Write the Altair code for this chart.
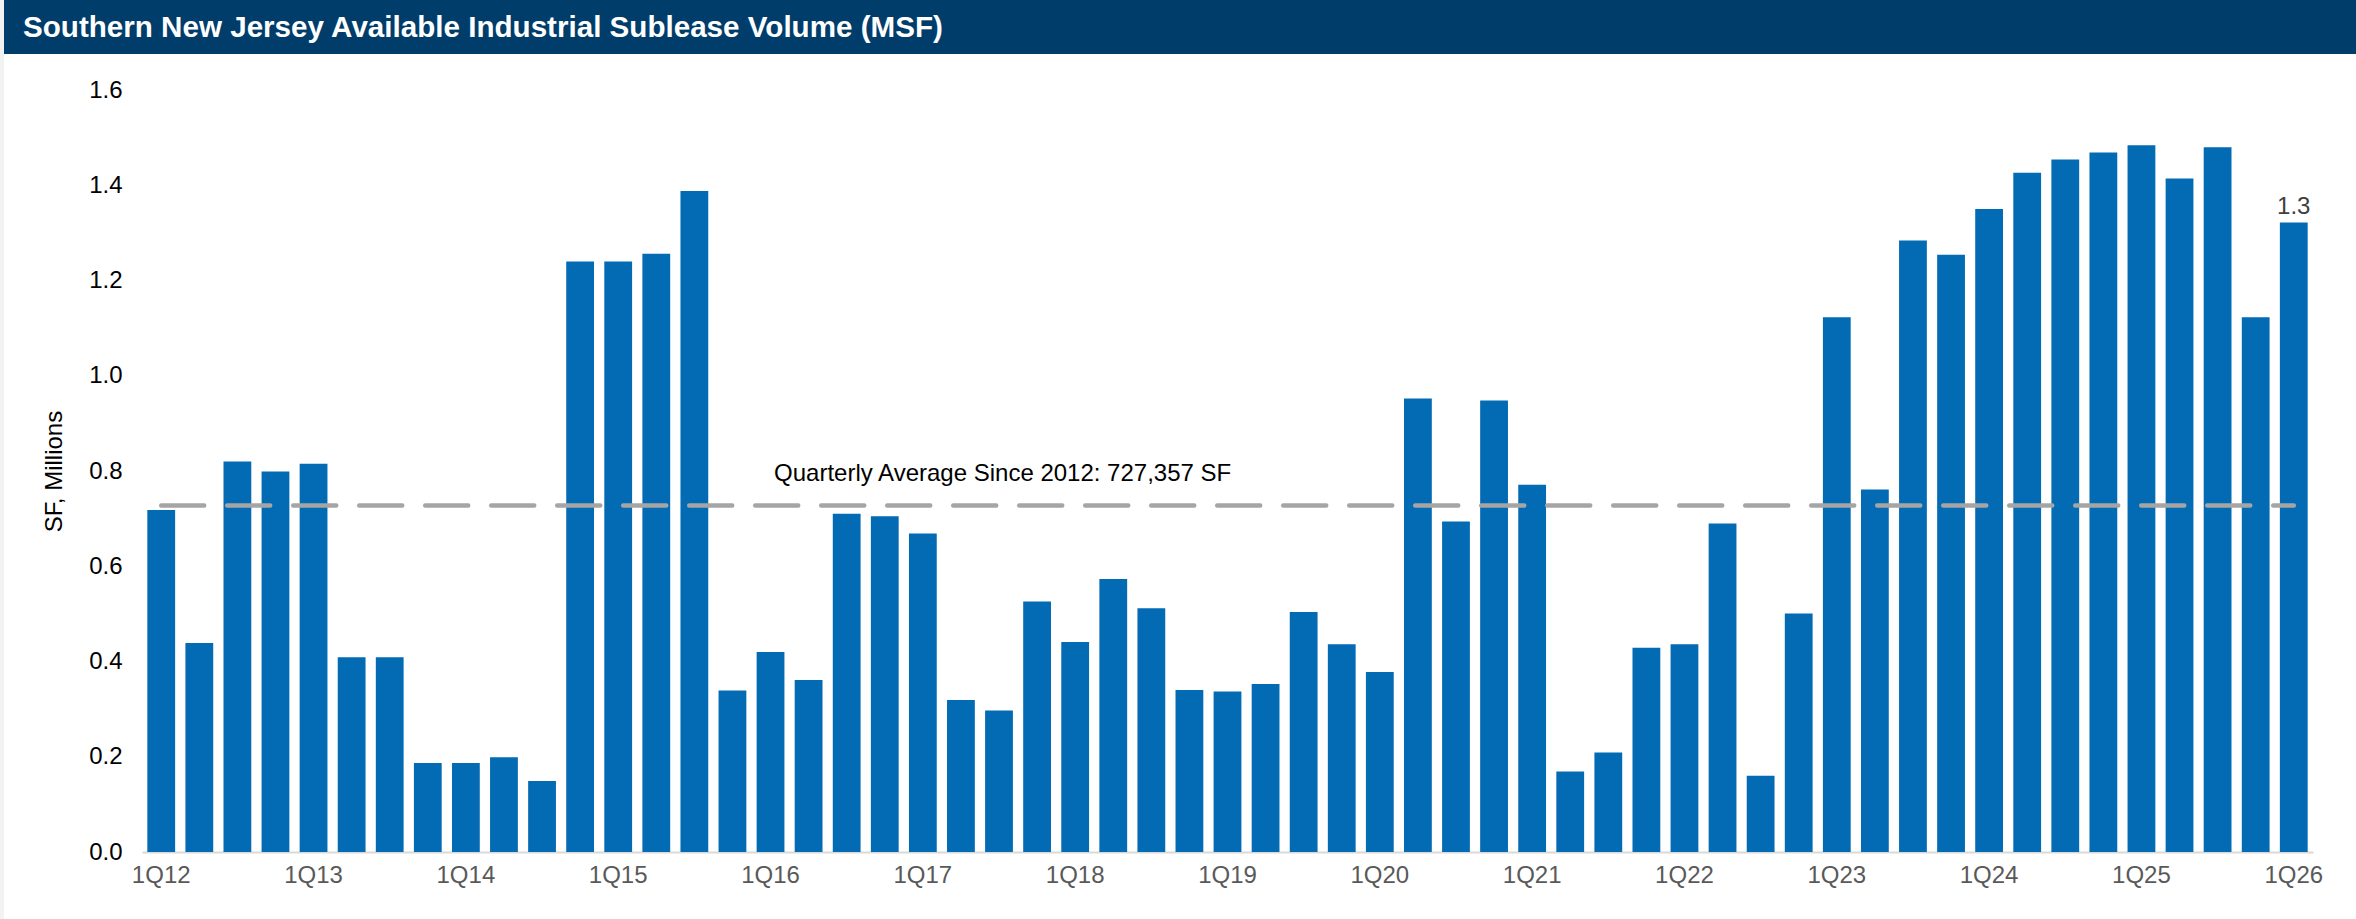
import altair as alt
import pandas as pd

TITLE = "Southern New Jersey Available Industrial Sublease Volume (MSF)"

quarters = [
    "1Q12", "2Q12", "3Q12", "4Q12",
    "1Q13", "2Q13", "3Q13", "4Q13",
    "1Q14", "2Q14", "3Q14", "4Q14",
    "1Q15", "2Q15", "3Q15", "4Q15",
    "1Q16", "2Q16", "3Q16", "4Q16",
    "1Q17", "2Q17", "3Q17", "4Q17",
    "1Q18", "2Q18", "3Q18", "4Q18",
    "1Q19", "2Q19", "3Q19", "4Q19",
    "1Q20", "2Q20", "3Q20", "4Q20",
    "1Q21", "2Q21", "3Q21", "4Q21",
    "1Q22", "2Q22", "3Q22", "4Q22",
    "1Q23", "2Q23", "3Q23", "4Q23",
    "1Q24", "2Q24", "3Q24", "4Q24",
    "1Q25", "2Q25", "3Q25", "4Q25",
    "1Q26",
]

volume_msf = [
    0.718, 0.439, 0.820, 0.799,
    0.815, 0.409, 0.409, 0.187,
    0.187, 0.199, 0.149, 1.240,
    1.240, 1.256, 1.388, 0.339,
    0.420, 0.361, 0.710, 0.705,
    0.669, 0.319, 0.297, 0.526,
    0.441, 0.573, 0.512, 0.340,
    0.337, 0.353, 0.504, 0.436,
    0.378, 0.952, 0.694, 0.948,
    0.771, 0.169, 0.209, 0.429,
    0.436, 0.690, 0.160, 0.501,
    1.123, 0.761, 1.284, 1.254,
    1.350, 1.426, 1.454, 1.469,
    1.484, 1.414, 1.480, 1.123,
    1.322,
]

axis_labels = ["1Q12", "1Q13", "1Q14", "1Q15", "1Q16", "1Q17", "1Q18",
               "1Q19", "1Q20", "1Q21", "1Q22", "1Q23", "1Q24", "1Q25", "1Q26"]
y_ticks = [0.0, 0.2, 0.4, 0.6, 0.8, 1.0, 1.2, 1.4, 1.6]

avg_value = 0.727357
avg_label = "Quarterly Average Since 2012: 727,357 SF"
avg_label_anchor = "1Q16"

FONT = "Liberation Sans"
BAR = "#036AB4"
NAVY = "#003D6B"
FS = 24

W, H = 2171, 762
PAD_L, PAD_T, PAD_R, PAD_B = 142, 90, 43, 67
TOTAL_W = PAD_L + W + PAD_R

df = pd.DataFrame({"q": quarters, "v": volume_msf})
df["lab"] = [f"{v:.1f}" for v in volume_msf]

x_enc = alt.X(
    "q:N",
    sort=quarters,
    scale=alt.Scale(domain=quarters, paddingInner=0.27, paddingOuter=0.14),
    axis=alt.Axis(
        values=axis_labels, labelAngle=0, title=None, ticks=False,
        labelFontSize=FS, labelColor="#595959", labelFont=FONT, labelPadding=11,
        domainColor="#D9D9D9", domainWidth=2,
    ),
)
y_enc = alt.Y(
    "v:Q",
    scale=alt.Scale(domain=[0, 1.6], nice=False, zero=True),
    axis=alt.Axis(
        values=y_ticks, format=".1f", grid=False, domain=False, ticks=False,
        labelFontSize=FS, labelColor="#000000", labelFont=FONT, labelPadding=20,
        title="SF, Millions", titleFontSize=FS, titleFontWeight="normal",
        titleColor="#000000", titleFont=FONT, titlePadding=22,
    ),
)

bars = alt.Chart(df).mark_bar(color=BAR).encode(x=x_enc, y=y_enc)

last_label = alt.Chart(df).transform_filter(
    alt.datum.q == quarters[-1]
).mark_text(
    baseline="alphabetic", align="center", dy=-8.5, fontSize=FS,
    color="#404040", font=FONT,
).encode(x="q:N", y="v:Q", text="lab:N")

avg_df = pd.DataFrame({"q": [quarters[0]], "q2": [quarters[-1]], "v": [avg_value]})
avg_rule = alt.Chart(avg_df).mark_rule(
    color="#A5A5A5", strokeWidth=4.5, strokeDash=[43, 23], strokeCap="round",
).encode(x="q:N", x2="q2:N", y="v:Q")

ann_df = pd.DataFrame({"q": [avg_label_anchor], "v": [avg_value], "t": [avg_label]})
avg_text = alt.Chart(ann_df).mark_text(
    align="left", baseline="alphabetic", dx=3.5, dy=-24.5,
    fontSize=FS, color="#000000", font=FONT,
).encode(x="q:N", y="v:Q", text="t:N")

title_df = pd.DataFrame({"t": [TITLE]})
banner = alt.Chart(title_df).mark_rect(color=NAVY).encode(
    x=alt.value(-PAD_L + 4), x2=alt.value(TOTAL_W - PAD_L),
    y=alt.value(-PAD_T), y2=alt.value(-PAD_T + 54),
)
strip = alt.Chart(title_df).mark_rect(color="#F2F2F2").encode(
    x=alt.value(-PAD_L), x2=alt.value(-PAD_L + 4),
    y=alt.value(-PAD_T), y2=alt.value(H + PAD_B),
)
banner_text = alt.Chart(title_df).mark_text(
    align="left", baseline="middle", fontSize=29.6, fontWeight="bold",
    color="#FFFFFF", font=FONT,
).encode(x=alt.value(-PAD_L + 23), y=alt.value(-PAD_T + 28), text="t:N")

chart = alt.layer(
    banner, strip, banner_text, bars, avg_rule, avg_text, last_label
).properties(
    width=W, height=H,
    autosize=alt.AutoSizeParams(type="none"),
    padding={"left": PAD_L, "top": PAD_T, "right": PAD_R, "bottom": PAD_B},
    background="#FFFFFF",
).configure_view(stroke=None)

chart.save("out.html", embed_options={"renderer": "svg", "actions": False})
